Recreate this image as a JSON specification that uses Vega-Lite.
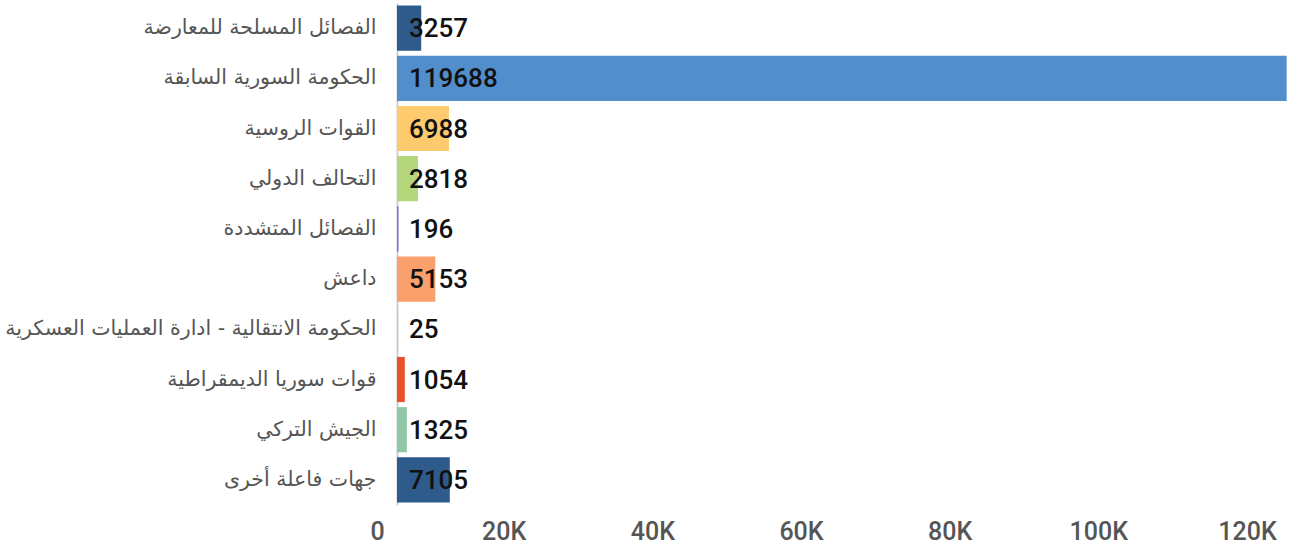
{
  "$schema": "https://vega.github.io/schema/vega-lite/v6.json",
  "autosize": "none",
  "padding": {"left": 397, "top": 3, "right": 10, "bottom": 40},
  "width": 892,
  "height": 502,
  "background": "white",
  "config": {"view": {"stroke": null}},
  "data": {"values": [
    {"actor": "الفصائل المسلحة للمعارضة", "value": 3257},
    {"actor": "الحكومة السورية السابقة", "value": 119688},
    {"actor": "القوات الروسية", "value": 6988},
    {"actor": "التحالف الدولي", "value": 2818},
    {"actor": "الفصائل المتشددة", "value": 196},
    {"actor": "داعش", "value": 5153},
    {"actor": "الحكومة الانتقالية - ادارة العمليات العسكرية", "value": 25},
    {"actor": "قوات سوريا الديمقراطية", "value": 1054},
    {"actor": "الجيش التركي", "value": 1325},
    {"actor": "جهات فاعلة أخرى", "value": 7105}
  ]},
  "encoding": {
    "y": {
      "field": "actor", "type": "nominal", "sort": null, "title": null,
      "scale": {"paddingInner": 0.1, "paddingOuter": 0.05},
      "axis": {
        "ticks": false, "domain": true, "domainColor": "#d0d0d0", "domainWidth": 2,
        "labelPadding": 21, "labelFont": "DejaVu Sans", "labelFontSize": 20.5,
        "labelColor": "#555555", "labelLimit": 420
      }
    }
  },
  "layer": [
    {
      "mark": {"type": "bar"},
      "encoding": {
        "x": {
          "field": "value", "type": "quantitative", "title": null,
          "scale": {"domain": [0, 120000], "nice": false},
          "axis": {
            "values": [0, 20000, 40000, 60000, 80000, 100000, 120000],
            "grid": false, "domain": false, "ticks": false,
            "labelPadding": 14, "labelFont": "Roboto", "labelFontWeight": 500,
            "labelFontSize": 25, "labelColor": "#555555",
            "labelExpr": "datum.value == 0 ? '0' : (datum.value / 1000) + 'K'",
            "labelOffset": {"condition": {"test": "datum.value === 0", "value": -20}, "value": -42},
            "labelFlush": false
          }
        },
        "color": {
          "field": "actor", "type": "nominal", "legend": null,
          "scale": {
            "domain": ["الفصائل المسلحة للمعارضة", "الحكومة السورية السابقة", "القوات الروسية", "التحالف الدولي", "الفصائل المتشددة", "داعش", "الحكومة الانتقالية - ادارة العمليات العسكرية", "قوات سوريا الديمقراطية", "الجيش التركي", "جهات فاعلة أخرى"],
            "range": ["#2E5B8C", "#528ECC", "#FDCB6E", "#B4D67A", "#7373E6", "#F9A06C", "#EE8888", "#E6532A", "#8EC7A6", "#2E5A8C"]
          }
        }
      }
    },
    {
      "mark": {"type": "text", "align": "left", "baseline": "middle", "dx": 12, "dy": 1, "font": "Roboto", "fontWeight": 500, "fontSize": 26, "color": "#111111"},
      "encoding": {
        "x": {"datum": 0, "type": "quantitative"},
        "text": {"field": "value", "type": "quantitative", "format": "d"}
      }
    }
  ]
}
